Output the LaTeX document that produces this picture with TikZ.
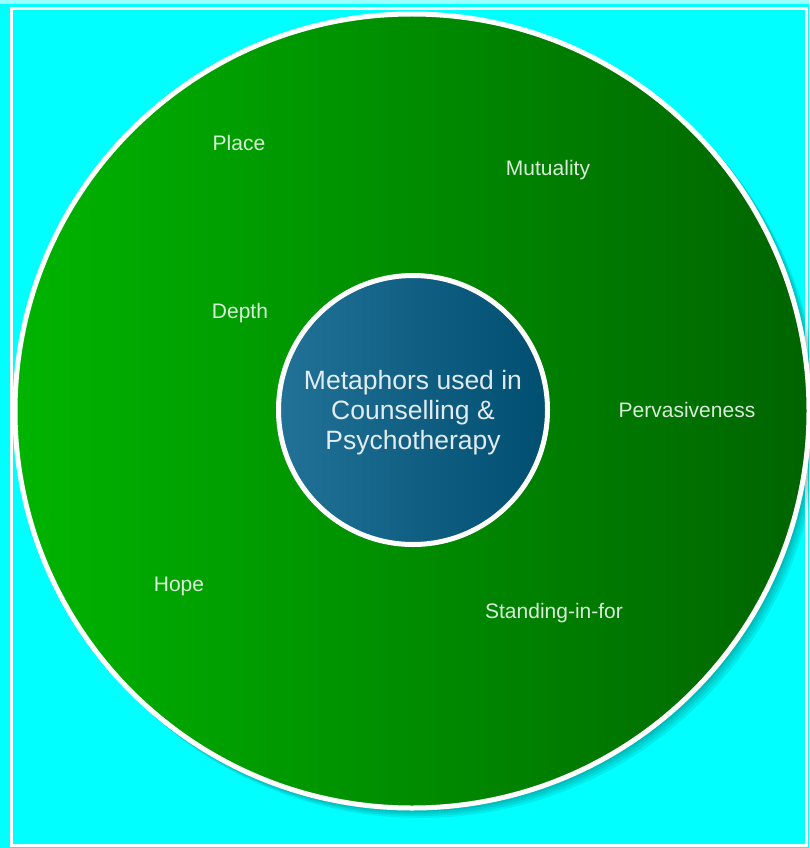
\documentclass[tikz,border=0pt]{standalone}
\usepackage{fontspec}
\setmainfont{Liberation Sans}
\definecolor{bgcyan}{RGB}{0,255,255}
\definecolor{gleft}{RGB}{0,180,0}
\definecolor{gright}{RGB}{0,100,0}
\definecolor{bleft}{RGB}{34,114,152}
\definecolor{bright}{RGB}{0,78,112}
\tikzset{
  ring/.style={circle, draw=white, inner sep=0pt},
  outerring/.style={ring, line width=5pt, minimum size=794pt, left color=gleft, right color=gright},
  innerring/.style={ring, line width=5pt, minimum size=269pt, left color=bleft, right color=bright},
  lbl/.style={text=white, text opacity=0.85, anchor=base, inner sep=0pt,
    font=\fontsize{21}{24}\selectfont},
  titletext/.style={text=white, text opacity=0.88, align=center, inner sep=0pt,
    font=\fontsize{26.5}{30}\selectfont}
}
\begin{document}
\begin{tikzpicture}[x=1pt,y=-1pt]
\useasboundingbox (0,0) rectangle (809,848);
\fill[bgcyan] (0,0) rectangle (809,848);
\fill[white, opacity=0.6] (0,0) rectangle (809,4);
\draw[white, line width=3pt] (11,9) rectangle (806,845);
% soft shadow of the big disc, towards the lower right
\foreach \d in {2,4,6,8}
  \fill[black, opacity=0.07] (412+\d,411+\d) circle (399);
\node[outerring] (disc) at (412,411) {};
\node[innerring] (core) at (413,410) {};
\node[titletext] (title) at (413,413) {Metaphors used in\\Counselling \&\\Psychotherapy};
\node[lbl] (place) at (239,150) {Place};
\node[lbl] (mutuality) at (548,175) {Mutuality};
\node[lbl] (depth) at (240,318) {Depth};
\node[lbl] (pervasiveness) at (687,417) {Pervasiveness};
\node[lbl] (hope) at (179,591) {Hope};
\node[lbl] (standing) at (554,618) {Standing-in-for};
\end{tikzpicture}
\end{document}
